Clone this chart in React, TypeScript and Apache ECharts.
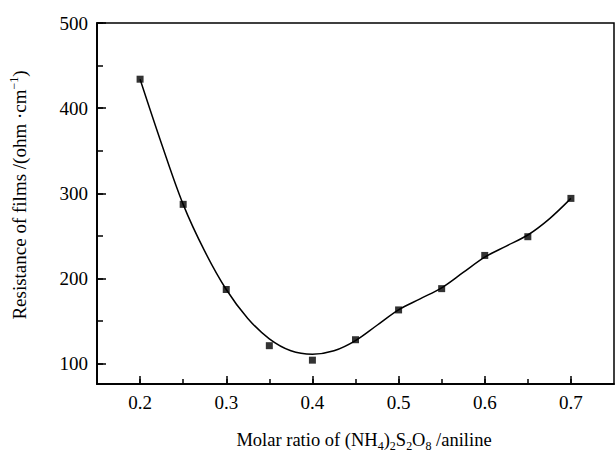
import React, { useEffect, useRef } from "react";
import * as echarts from "echarts";

const ratios = [0.2, 0.25, 0.3, 0.35, 0.4, 0.45, 0.5, 0.55, 0.6, 0.65, 0.7];
const resistance = [434, 287, 187, 121, 104, 128, 163, 188, 227, 249, 294];

// fitted curve
const curveX = [0.2, 0.225, 0.25, 0.275, 0.3, 0.325, 0.35, 0.375, 0.4, 0.425, 0.45, 0.475, 0.5, 0.525, 0.55, 0.575, 0.6, 0.625, 0.65, 0.675, 0.7];
const curveY = [434, 358, 287, 232, 187, 153, 129, 115, 111, 115, 127, 145, 163, 176, 189, 207, 225, 238, 251, 270, 294];

const xMajor = [0.2, 0.3, 0.4, 0.5, 0.6, 0.7];
const xMinor = [0.2, 0.25, 0.3, 0.35, 0.4, 0.45, 0.5, 0.55, 0.6, 0.65, 0.7];
const yMajor = [100, 200, 300, 400, 500];
const yMinor = [100, 150, 200, 250, 300, 350, 400, 450, 500];

const FONT = "Liberation Serif";

export default function App() {
  const ref = useRef<HTMLDivElement>(null);
  useEffect(() => {
    const chart = echarts.init(ref.current!, null, { renderer: "svg" });
    const axisLine = { show: true, lineStyle: { color: "#000", width: 1.5 } };
    const xBase = { type: "value", min: 0.15, max: 0.75, splitLine: { show: false } };
    const yBase = { type: "value", min: 76, max: 500, splitLine: { show: false } };
    chart.setOption({
      animation: false,
      backgroundColor: "#fff",
      grid: { left: 97, top: 23, right: 2, bottom: 70, show: true, borderColor: "#000", borderWidth: 1.5 },
      xAxis: [
        {
          ...xBase,
          position: "bottom",
          axisLine,
          axisTick: { show: true, inside: true, length: 5, customValues: xMinor, lineStyle: { color: "#000", width: 1.5 } },
          axisLabel: { show: false },
        },
        {
          ...xBase,
          position: "bottom",
          axisLine,
          axisTick: { show: true, inside: true, length: 8, customValues: xMajor, lineStyle: { color: "#000", width: 1.5 } },
          axisLabel: {
            show: true,
            customValues: xMajor,
            margin: 9,
            color: "#000",
            fontFamily: FONT,
            fontSize: 19,
            formatter: (v: number) => v.toFixed(1),
          },
        },
      ],
      yAxis: [
        {
          ...yBase,
          position: "left",
          axisLine,
          axisTick: { show: true, inside: true, length: 6, customValues: yMinor, lineStyle: { color: "#000", width: 1.5 } },
          axisLabel: { show: false },
        },
        {
          ...yBase,
          position: "left",
          axisLine,
          axisTick: { show: true, inside: true, length: 9, customValues: yMajor, lineStyle: { color: "#000", width: 1.5 } },
          axisLabel: {
            show: true,
            customValues: yMajor,
            margin: 9,
            color: "#000",
            fontFamily: FONT,
            fontSize: 19,
          },
        },
      ],
      series: [
        {
          type: "line",
          xAxisIndex: 0,
          yAxisIndex: 0,
          data: curveX.map((x, i) => [x, curveY[i]]),
          smooth: 0.35,
          showSymbol: false,
          lineStyle: { color: "#000", width: 1.5 },
          z: 2,
        },
        {
          type: "scatter",
          xAxisIndex: 0,
          yAxisIndex: 0,
          data: ratios.map((x, i) => [x, resistance[i]]),
          symbol: "rect",
          symbolSize: 7,
          itemStyle: { color: "#000" },
          z: 3,
        },
      ],
      graphic: [
        {
          type: "text",
          x: 364,
          y: 440,
          style: {
            text: "{n|Molar ratio of (NH}{s|4}{n|)}{s|2}{n|S}{s|2}{n|O}{s|8}{n| /aniline}",
            align: "center",
            verticalAlign: "middle",
            fill: "#000",
            rich: {
              n: { fontFamily: FONT, fontSize: 18.5, fill: "#000", lineHeight: 22 },
              s: { fontFamily: FONT, fontSize: 12, fill: "#000", lineHeight: 12, padding: [12, 0, 0, 0] },
            },
          },
        },
        {
          type: "text",
          x: 19,
          y: 195,
          rotation: Math.PI / 2,
          style: {
            text: "{n|Resistance of films /(ohm ·cm}{p|−1}{n|)}",
            align: "center",
            verticalAlign: "middle",
            fill: "#000",
            rich: {
              n: { fontFamily: FONT, fontSize: 19, fill: "#000", lineHeight: 22 },
              p: { fontFamily: FONT, fontSize: 12, fill: "#000", lineHeight: 12, padding: [0, 0, 10, 0] },
            },
          },
        },
      ],
    });
    return () => chart.dispose();
  }, []);
  return <div ref={ref} style={{ width: 616, height: 454, position: "absolute", left: 0, top: 0 }} />;
}
